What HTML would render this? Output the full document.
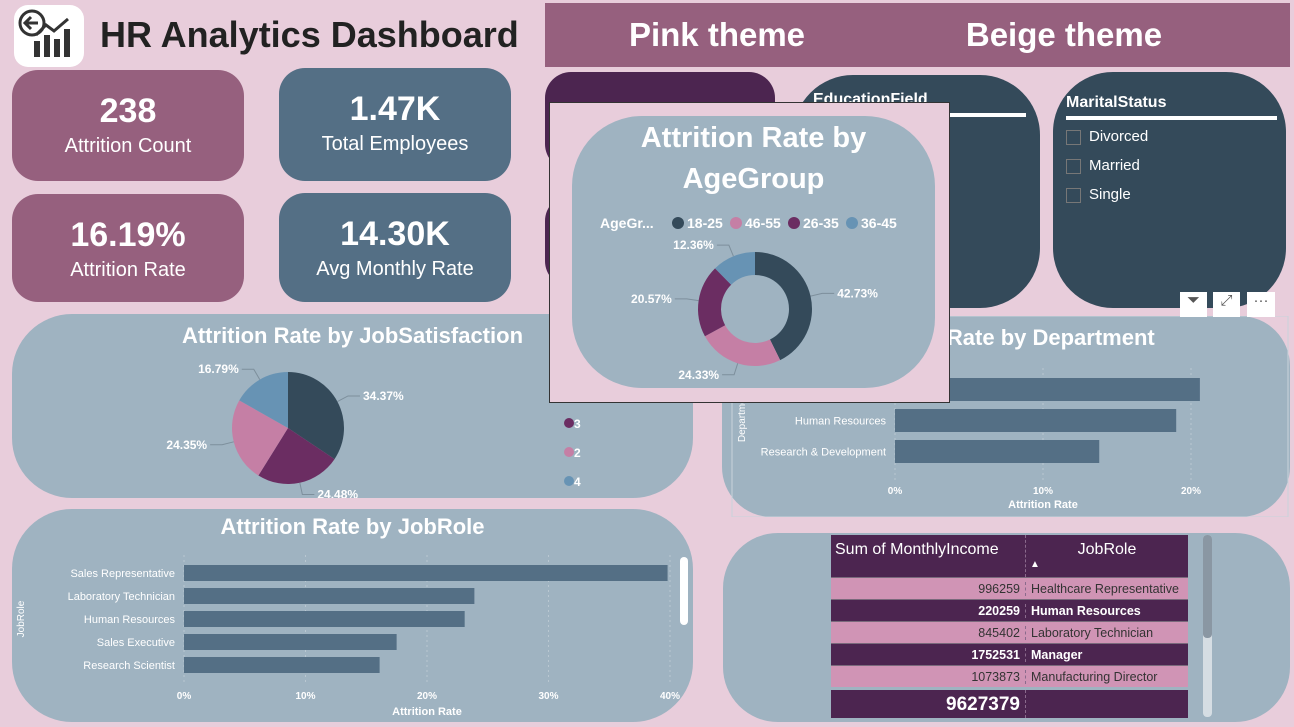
<!DOCTYPE html>
<html><head><meta charset="utf-8">
<style>
*{box-sizing:border-box;margin:0;padding:0}
body{width:1294px;height:727px;background:#e8cddb;font-family:"Liberation Sans",sans-serif;position:relative;overflow:hidden}
.a{position:absolute}
.card{position:absolute;border-radius:26px;color:#fff;text-align:center}
.card .v{font-size:34px;font-weight:bold;margin-top:22px}
.card .l{font-size:20px;margin-top:4px}
.panel{position:absolute;background:#9fb3c1;border-radius:60px}
.ttl{position:absolute;color:#fff;font-weight:bold;font-size:22px;text-align:center}
svg text{font-family:"Liberation Sans",sans-serif}
</style></head><body>
<div class="a" style="left:14px;top:5px;width:70px;height:62px;background:#fff;border-radius:14px">
<svg width="70" height="62"><circle cx="18" cy="18" r="12" fill="none" stroke="#333" stroke-width="3"/><path d="M24 18H12M17 12l-6 6 6 6" stroke="#333" stroke-width="3" fill="none"/><rect x="20" y="36" width="6" height="16" fill="#333"/><rect x="30" y="30" width="6" height="22" fill="#333"/><rect x="40" y="34" width="6" height="18" fill="#333"/><rect x="50" y="24" width="6" height="28" fill="#333"/><path d="M22 30l10-10 8 6 14-12" stroke="#333" stroke-width="3" fill="none"/></svg></div>
<div class="a" style="left:100px;top:14px;font-size:36px;font-weight:bold;color:#222">HR Analytics Dashboard</div>
<div class="a" style="left:545px;top:3px;width:745px;height:64px;background:#96607e"></div>
<div class="a" style="left:617px;top:16px;width:200px;text-align:center;color:#fff;font-size:33px;font-weight:bold">Pink theme</div>
<div class="a" style="left:944px;top:16px;width:240px;text-align:center;color:#fff;font-size:33px;font-weight:bold">Beige theme</div>

<div class="card" style="left:12px;top:70px;width:232px;height:111px;background:#96607e"><div class="v">238</div><div class="l">Attrition Count</div></div>
<div class="card" style="left:279px;top:68px;width:232px;height:113px;background:#546f85"><div class="v">1.47K</div><div class="l">Total Employees</div></div>
<div class="card" style="left:12px;top:194px;width:232px;height:108px;background:#96607e"><div class="v">16.19%</div><div class="l">Attrition Rate</div></div>
<div class="card" style="left:279px;top:193px;width:232px;height:109px;background:#546f85"><div class="v">14.30K</div><div class="l">Avg Monthly Rate</div></div>
<div class="card" style="left:545px;top:72px;width:230px;height:98px;background:#4c2550"></div>
<div class="card" style="left:545px;top:195px;width:60px;height:92px;background:#4c2550"></div>

<div class="a" style="left:793px;top:75px;width:247px;height:233px;background:#344a5a;border-radius:60px"><div style="position:absolute;left:20px;top:16px;color:#fff;font-weight:bold;font-size:16px">EducationField</div><div style="position:absolute;left:20px;top:38px;width:213px;height:4px;background:#fff"></div></div>
<div class="a" style="left:1053px;top:72px;width:233px;height:236px;background:#344a5a;border-radius:60px;color:#fff">
<div style="position:absolute;left:13px;top:22px;font-weight:bold;font-size:16px">MaritalStatus</div>
<div style="position:absolute;left:13px;top:44px;width:211px;height:4px;background:#fff"></div>
<div style="position:absolute;left:13px;top:56px;font-size:15px"><span style="display:inline-block;width:15px;height:15px;border:1px solid #777;vertical-align:middle;margin-right:8px"></span>Divorced</div>
<div style="position:absolute;left:13px;top:85px;font-size:15px"><span style="display:inline-block;width:15px;height:15px;border:1px solid #777;vertical-align:middle;margin-right:8px"></span>Married</div>
<div style="position:absolute;left:13px;top:114px;font-size:15px"><span style="display:inline-block;width:15px;height:15px;border:1px solid #777;vertical-align:middle;margin-right:8px"></span>Single</div>
</div>

<div class="panel" style="left:12px;top:314px;width:681px;height:184px"></div>
<div class="ttl" style="left:12px;top:323px;width:681px">Attrition Rate by JobSatisfaction</div>
<svg class="a" id="pie" style="left:12px;top:314px" width="681" height="184"></svg>

<div class="panel" style="left:722px;top:316px;width:568px;height:201px;border-radius:50px"></div>
<div class="ttl" style="left:760px;top:325px;width:490px">Attrition Rate by Department</div>
<svg class="a" id="dept" style="left:722px;top:316px" width="568" height="201"></svg>
<div class="a" style="left:1180px;top:292px;width:27px;height:25px;background:#fff;text-align:center;font-size:16px;color:#555">⏷</div>
<div class="a" style="left:1213px;top:292px;width:27px;height:25px;background:#fff;text-align:center;font-size:15px;color:#555">⤢</div>
<div class="a" style="left:1247px;top:292px;width:28px;height:25px;background:#fff;text-align:center;font-size:15px;color:#555">···</div>

<div class="panel" style="left:12px;top:509px;width:681px;height:213px"></div>
<div class="ttl" style="left:12px;top:514px;width:681px">Attrition Rate by JobRole</div>
<svg class="a" id="role" style="left:12px;top:509px" width="681" height="213"></svg>

<div class="panel" style="left:723px;top:533px;width:567px;height:189px;border-radius:55px"></div>
<div class="a" style="left:831px;top:535px;width:357px;height:183px;font-size:12.5px">
<div style="height:42px;background:#4c2550;color:#fff;font-size:16px;display:flex"><div style="width:195px;padding:6px 4px;border-right:1px dashed #8a6a8c">Sum of MonthlyIncome</div><div style="flex:1;text-align:center;padding-top:6px">JobRole<div style="font-size:10px;text-align:left;padding-left:4px">▲</div></div></div>
<div id="rows"></div>
<div style="margin-top:3px;height:28px;background:#4c2550;color:#fff;font-weight:bold;font-size:19px;display:flex"><div style="width:195px;text-align:right;padding:4px 5px;border-right:1px dashed #8a6a8c">9627379</div></div>
</div>
<div class="a" style="left:1203px;top:535px;width:9px;height:182px;background:#d5dde3;border-radius:4px"><div style="height:103px;background:#8a97a3;border-radius:4px"></div></div>

<div class="a" style="left:549px;top:102px;width:401px;height:301px;background:#e8cddb;border:1px solid #333"></div>
<div class="panel" style="left:572px;top:116px;width:363px;height:272px;border-radius:70px"></div>
<div class="ttl" style="left:572px;top:118px;width:363px;font-size:29px;line-height:41px">Attrition Rate by<br>AgeGroup</div>
<svg class="a" id="donut" style="left:572px;top:116px" width="363" height="272"></svg>

<script>
const NS='http://www.w3.org/2000/svg';
function el(svg,t,at,txt){const e=document.createElementNS(NS,t);for(const k in at)e.setAttribute(k,at[k]);if(txt!==undefined)e.textContent=txt;svg.appendChild(e);return e;}
// JobSatisfaction pie data
const jsCats=['1','3','2','4'];
const jsVals=[34.37,24.48,24.35,16.79];
// AgeGroup donut data
const ageCats=['18-25','46-55','26-35','36-45'];
const ageVals=[42.73,24.33,20.57,12.36];
// Department data
const deptCats=['Sales','Human Resources','Research & Development'];
const deptVals=[20.6,19.0,13.8];
const deptTicks=['0%','10%','20%'];
// JobRole data
const roleCats=['Sales Representative','Laboratory Technician','Human Resources','Sales Executive','Research Scientist'];
const roleVals=[39.8,23.9,23.1,17.5,16.1];
const roleTicks=['0%','10%','20%','30%','40%'];
// Table data
const tblIncome=['996259','220259','845402','1752531','1073873'];
const tblRoles=['Healthcare Representative','Human Resources','Laboratory Technician','Manager','Manufacturing Director'];
const cols=['#344a5a','#6b2d62','#c57fa5','#6793b4'];
const ageCols=['#344a5a','#c57fa5','#6b2d62','#6793b4'];

function pie(svg,cx,cy,r,ri,vals,colors,labels,name){
  const tot=vals.reduce((a,b)=>a+b,0);let a0=-Math.PI/2;
  vals.forEach((v,i)=>{
    const a1=a0+v/tot*2*Math.PI,lg=(a1-a0)>Math.PI?1:0;
    const p=(rr,a)=>[cx+rr*Math.cos(a),cy+rr*Math.sin(a)];
    const [x0,y0]=p(r,a0),[x1,y1]=p(r,a1);
    let d;
    if(ri>0){const [x2,y2]=p(ri,a1),[x3,y3]=p(ri,a0);d=`M${x0} ${y0}A${r} ${r} 0 ${lg} 1 ${x1} ${y1}L${x2} ${y2}A${ri} ${ri} 0 ${lg} 0 ${x3} ${y3}Z`;}
    else d=`M${cx} ${cy}L${x0} ${y0}A${r} ${r} 0 ${lg} 1 ${x1} ${y1}Z`;
    const s=el(svg,'path',{d:d,fill:colors[i]});
    
    
    const am=(a0+a1)/2,[ex,ey]=p(r+12,am);const right=Math.cos(am)>0;
    const [sx0,sy0]=p(r,am);
    el(svg,'polyline',{points:`${sx0},${sy0} ${ex},${ey} ${ex+(right?12:-12)},${ey}`,fill:'none',stroke:'#7d8f9c','stroke-width':1});
    const t=el(svg,'text',{x:ex+(right?15:-15),y:ey+4,fill:'#fff','font-size':12,'font-weight':'bold','text-anchor':right?'start':'end'},labels[i].toFixed(2)+'%');
    
    
    a0=a1;});
}
const ps=document.getElementById('pie');
pie(ps,276,114,56,0,jsVals,cols,jsVals,'js');
jsCats.slice(1).forEach((c,i)=>{const g=el(ps,'g',{});


el(g,'circle',{cx:557,cy:109+i*29,r:5,fill:cols[i+1]});el(g,'text',{x:562,y:114+i*29,fill:'#fff','font-size':12,'font-weight':'bold'},c);});

const ds=document.getElementById('donut');
pie(ds,183,193,57,34,ageVals,ageCols,ageVals,'age');
el(ds,'text',{x:28,y:112,fill:'#fff','font-size':14,'font-weight':'bold'},'AgeGr...');
let lx=100;ageCats.forEach((c,i)=>{const g=el(ds,'g',{});


el(g,'circle',{cx:lx+6,cy:107,r:6,fill:ageCols[i]});el(g,'text',{x:lx+15,y:112,fill:'#fff','font-size':14,'font-weight':'bold'},c);lx+=58;});

function hbar(svg,x0,x10,top,step,bh,cats,vals,ticks,tickY,title,ty,name){
  const sx=v=>x0+(x10-x0)*v/10;
  ticks.forEach((t,i)=>{el(svg,'line',{x1:sx(i*10),x2:sx(i*10),y1:top-10,y2:tickY-14,stroke:'#b9c7d1','stroke-dasharray':'2,3'});
    el(svg,'text',{x:sx(i*10),y:tickY,fill:'#fff','font-size':10,'font-weight':'bold','text-anchor':'middle'},t);});
  cats.forEach((c,i)=>{const y=top+i*step;
    const b=el(svg,'rect',{x:x0,y:y,width:sx(vals[i])-x0,height:bh,fill:'#546f85'});
    
    
    el(svg,'text',{x:x0-9,y:y+bh/2+4,fill:'#fff','font-size':11,'text-anchor':'end'},c);});
  el(svg,'text',{x:(sx(0)+sx(ticks.length*10-10))/2,y:ty,fill:'#fff','font-size':11,'font-weight':'bold','text-anchor':'middle'},title);
}
const dp=document.getElementById('dept');
hbar(dp,173,321,62,31,23,deptCats,deptVals,deptTicks,178,'Attrition Rate',192,'dept');
el(dp,'text',{x:23,y:100,fill:'#fff','font-size':10,transform:'rotate(-90 23 100)','text-anchor':'middle'},'Department');
el(dp,'rect',{x:10,y:0,width:556,height:201,fill:'none',stroke:'#c8d3db'});
const rp=document.getElementById('role');
hbar(rp,172,293.5,56,23,16,roleCats,roleVals,roleTicks,190,'Attrition Rate',206,'role');
el(rp,'text',{x:12,y:110,fill:'#fff','font-size':10,transform:'rotate(-90 12 110)','text-anchor':'middle'},'JobRole');
el(rp,'rect',{x:668,y:48,width:8,height:68,rx:4,fill:'#fff'});

const rows=document.getElementById('rows');
tblIncome.forEach((v,i)=>{const d=document.createElement('div');


const dark=i%2==1;d.style.cssText='height:22px;display:flex;align-items:center;border-top:1px solid #7a6a7c;background:'+(dark?'#4c2550':'#d094b5')+';color:'+(dark?'#fff':'#333')+';font-weight:'+(dark?'bold':'normal');
d.innerHTML='<div style="width:195px;text-align:right;padding-right:5px;border-right:1px dashed #8a6a8c">'+v+'</div><div style="padding-left:5px">'+tblRoles[i]+'</div>';rows.appendChild(d);});
</script>
</body></html>
